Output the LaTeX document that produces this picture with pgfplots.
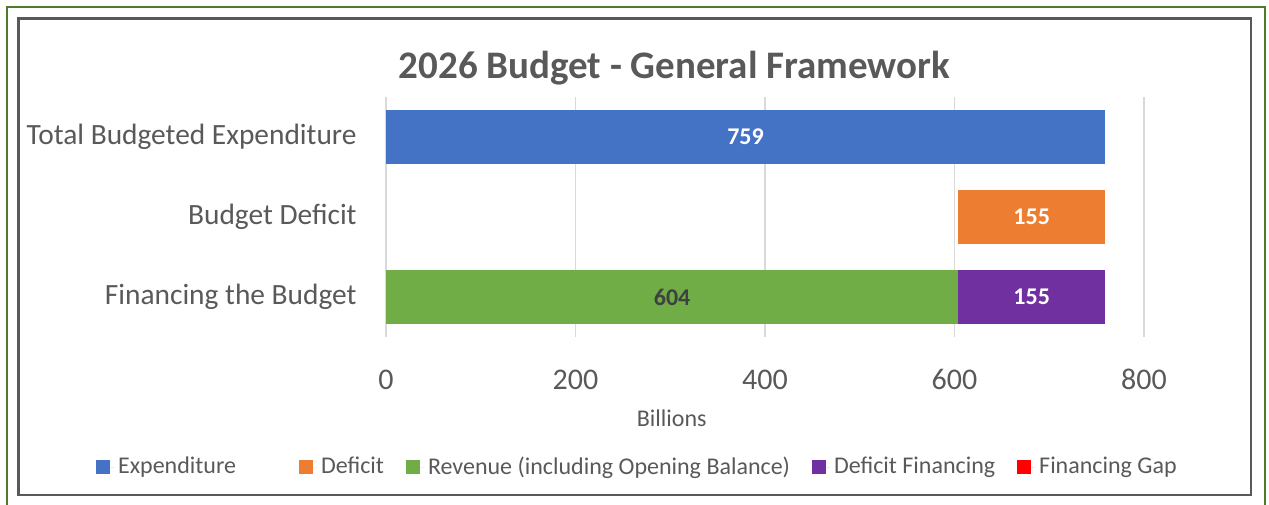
\documentclass[border=0pt]{standalone}
\usepackage{pgfplots}
\pgfplotsset{compat=1.18}
\usepackage{fontspec}
\setmainfont{Carlito}

\definecolor{cExp}{HTML}{4472C4}
\definecolor{cDef}{HTML}{ED7D31}
\definecolor{cRev}{HTML}{70AD47}
\definecolor{cFin}{HTML}{7030A0}
\definecolor{cGap}{HTML}{FF0000}
\definecolor{txt}{HTML}{595959}
\definecolor{frameg}{HTML}{4E7A2A}

\begin{document}
\begin{tikzpicture}
\useasboundingbox (0,0) rectangle (634.5pt,-252pt);
% outer and inner frames
\draw[frameg, line width=1pt] (3.25pt,-260pt) -- (3.25pt,-3.25pt) -- (632.6pt,-3.25pt) -- (632.6pt,-260pt);
\draw[black!65, line width=1.2pt] (9.2pt,-9.2pt) rectangle (625.5pt,-247.5pt);

\begin{axis}[
	at={(193pt,-168.5pt)}, anchor=south west,
	scale only axis, width=379pt, height=120pt,
	xbar stacked, bar width=27pt,
	xmin=0, xmax=800, ymin=-0.5, ymax=2.5,
	xtick={0,200,...,800}, ytick={0,1,2},
	yticklabels={Financing the Budget, Budget Deficit, Total Budgeted Expenditure},
	axis line style={draw=none}, tick style={draw=none},
	xmajorgrids, grid style={draw=black!15, line width=0.6pt},
	/pgf/number format/assume math mode=true,
	xticklabel style={font=\fontsize{15}{18}\selectfont, text=txt, anchor=center, yshift=-21.25pt},
	yticklabel style={font=\fontsize{14.7}{18}\selectfont, text=txt, anchor=east, inner sep=0pt, xshift=-14.5pt},
	xlabel={Billions},
	every axis x label/.style={at={(axis description cs:0.377,-0.3375)}, anchor=center, font=\fontsize{12}{14}\selectfont, text=txt},
	point meta=explicit symbolic,
	nodes near coords={\pgfplotspointmeta},
	every node near coord/.append style={anchor=center, font=\fontsize{12}{14}\bfseries, text=white},
	legend columns=-1,
	legend style={at={(0.333,-0.542)}, anchor=center, draw=none, fill=none,
		font=\fontsize{12}{14}\selectfont, text=txt, inner sep=0pt,
		/tikz/every even column/.append style={column sep=9pt}},
	legend cell align=left,
	legend image code/.code={\fill[#1] (0pt,-3.5pt) rectangle (7pt,3.5pt); \path (0pt,0pt) -- (9pt,0pt);},
]
\addplot[fill=cExp, draw=none] coordinates {(759,2) [759] (0,1) [] (0,0) []};
\addlegendentry{Expenditure\rule{20.5pt}{0pt}}
\addplot[fill=none, draw=none, forget plot, nodes near coords={}] coordinates {(0,2) (604,1) (0,0)};
\addplot[fill=cDef, draw=none] coordinates {(0,2) [] (155,1) [155] (0,0) []};
\addlegendentry{Deficit}
\addplot[fill=cRev, draw=none, every node near coord/.append style={text=black!75}] coordinates {(0,2) [] (0,1) [] (604,0) [604]};
\addlegendentry{Revenue (including Opening Balance)}
\addplot[fill=cFin, draw=none] coordinates {(0,2) [] (0,1) [] (155,0) [155]};
\addlegendentry{Deficit Financing}
\addplot[fill=cGap, draw=none, nodes near coords={}] coordinates {(0,2) (0,1) (0,0)};
\addlegendentry{Financing Gap}
% label of the zero-length gap bar, white, so only its left half shows on the purple bar
\node[text=white, font=\fontsize{12}{14}\bfseries, xshift=1.5pt] at (axis cs:759,0) {0};
\end{axis}

\node[anchor=base, text=txt, font=\fontsize{19.5}{23}\bfseries] at (337.25pt,-39pt) {2026 Budget - General Framework};
\end{tikzpicture}
\end{document}
